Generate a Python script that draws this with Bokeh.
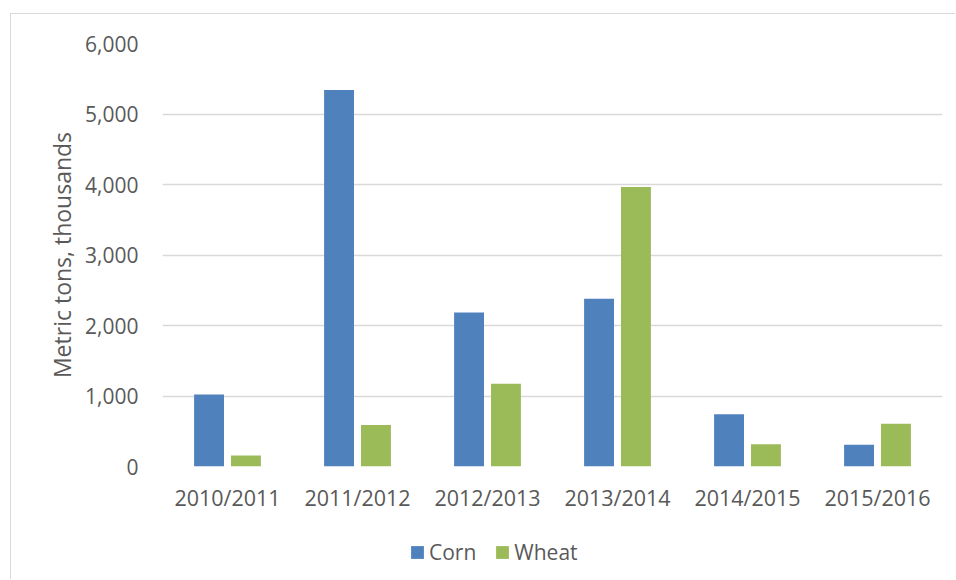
from bokeh.plotting import figure
from bokeh.models import (ColumnDataSource, FactorRange, FixedTicker, NumeralTickFormatter,
                          Legend, LegendItem, Range1d)
from bokeh.layouts import column
from bokeh.transform import dodge
from bokeh.embed import file_html
from bokeh.resources import INLINE

years = ["2010/2011", "2011/2012", "2012/2013", "2013/2014", "2014/2015", "2015/2016"]
corn = [1020, 5340, 2185, 2380, 740, 310]
wheat = [155, 590, 1175, 3965, 315, 605]
y_ticks = [0, 1000, 2000, 3000, 4000, 5000, 6000]
series_names = ["Corn", "Wheat"]

FONT = "Open Sans"
TXT = "#595959"
BLUE = "#4F81BD"
GREEN = "#9BBB59"

src = ColumnDataSource(dict(year=years, corn=corn, wheat=wheat))

p = figure(x_range=FactorRange(*years, range_padding=0), y_range=Range1d(0, 6000),
           width=945, height=512, output_backend="svg", toolbar_location=None,
           min_border_left=151, min_border_right=14, min_border_top=29, min_border_bottom=60)
p.outline_line_color = None
p.background_fill_color = "white"
p.border_fill_color = "white"

rc = p.vbar(x=dodge("year", -0.142, range=p.x_range), top="corn", width=0.23,
            source=src, fill_color=BLUE, line_color=None)
rw = p.vbar(x=dodge("year", 0.142, range=p.x_range), top="wheat", width=0.23,
            source=src, fill_color=GREEN, line_color=None)

# axes
p.yaxis.ticker = FixedTicker(ticks=y_ticks)
p.yaxis.formatter = NumeralTickFormatter(format="0,0")
p.yaxis.axis_line_color = None
p.yaxis.major_tick_line_color = None
p.yaxis.minor_tick_line_color = None
p.yaxis.major_tick_out = 0
p.yaxis.major_tick_in = 0
p.yaxis.major_label_standoff = 24
p.yaxis.major_label_text_font = FONT
p.yaxis.major_label_text_font_size = "21px"
p.yaxis.major_label_text_color = TXT
p.yaxis.axis_label = "Metric tons, thousands"
p.yaxis.axis_label_text_font = FONT
p.yaxis.axis_label_text_font_size = "23px"
p.yaxis.axis_label_text_font_style = "normal"
p.yaxis.axis_label_text_color = TXT
p.yaxis.axis_label_standoff = 4

p.xaxis.axis_line_color = None
p.xaxis.major_tick_line_color = None
p.xaxis.minor_tick_line_color = None
p.xaxis.major_tick_out = 0
p.xaxis.major_tick_in = 0
p.xaxis.major_label_standoff = 16
p.xaxis.major_label_text_font = FONT
p.xaxis.major_label_text_font_size = "21.5px"
p.xaxis.major_label_text_color = TXT

p.xgrid.grid_line_color = None
p.ygrid.grid_line_color = "#d9d9d9"
p.ygrid.grid_line_width = 1.5

# legend strip below the chart (its bars lie far outside its visible range)
lg = figure(width=945, height=54, x_range=FactorRange(*years, range_padding=0),
            y_range=Range1d(100000, 100001),
            output_backend="svg", toolbar_location=None,
            min_border_left=0, min_border_right=0, min_border_top=0, min_border_bottom=0)
lg.axis.visible = False
lg.grid.visible = False
lg.outline_line_color = None
lg.background_fill_color = "white"
lg.border_fill_color = "white"
lc = lg.vbar(x=dodge("year", -0.142, range=lg.x_range), top="corn", width=0.23,
             source=src, fill_color=BLUE, line_color=None)
lw = lg.vbar(x=dodge("year", 0.142, range=lg.x_range), top="wheat", width=0.23,
             source=src, fill_color=GREEN, line_color=None)

legend = Legend(items=[LegendItem(label=series_names[0], renderers=[lc]),
                       LegendItem(label=series_names[1], renderers=[lw])],
                location=(247, 14), orientation="horizontal")
legend.glyph_width = 16
legend.glyph_height = 16
legend.label_standoff = 4
legend.spacing = 18
legend.padding = 0
legend.margin = 0
legend.border_line_color = None
legend.background_fill_alpha = 0
legend.label_text_font = FONT
legend.label_text_font_size = "21px"
legend.label_text_color = TXT
lg.add_layout(legend, "center")

layout = column(p, lg, spacing=0)
layout.margin = (14, 0, 0, 11)
layout.styles = {"box-shadow": "-1px -1px 0 0 #d9d9d9"}

open("out.html", "w").write(file_html(layout, INLINE))
